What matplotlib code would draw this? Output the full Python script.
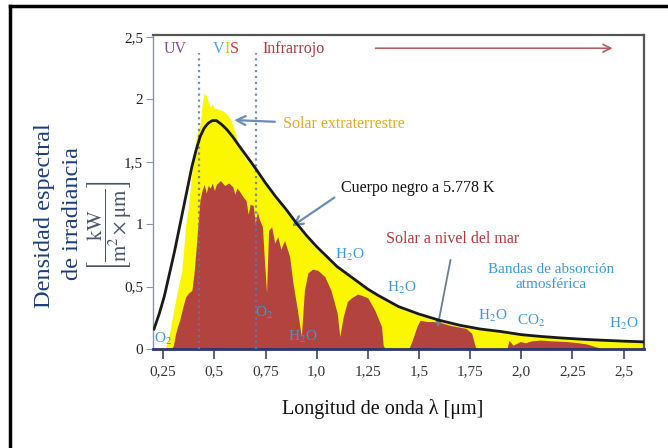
import matplotlib
matplotlib.use("Agg")
import matplotlib.pyplot as plt
from matplotlib.lines import Line2D
from matplotlib.transforms import offset_copy

plt.rcParams['font.family'] = ['Liberation Serif', 'DejaVu Serif']
plt.rcParams['mathtext.fontset'] = 'stix'

# ---- data ----
bb_x = [0.205, 0.23, 0.255, 0.28, 0.305, 0.33, 0.35, 0.37, 0.39, 0.41, 0.43, 0.45,
        0.47, 0.49, 0.51, 0.535, 0.56, 0.59, 0.62, 0.66, 0.70, 0.75, 0.80, 0.85,
        0.90, 0.95, 1.00, 1.05, 1.10, 1.15, 1.20, 1.25, 1.30, 1.40, 1.50, 1.60,
        1.70, 1.80, 1.90, 2.00, 2.10, 2.20, 2.30, 2.40, 2.50, 2.60]
bb_y = [0.16, 0.28, 0.42, 0.60, 0.78, 0.98, 1.14, 1.30, 1.46, 1.59, 1.70, 1.77,
        1.81, 1.83, 1.83, 1.80, 1.76, 1.70, 1.63, 1.54, 1.45, 1.33, 1.22, 1.12,
        1.01, 0.91, 0.82, 0.74, 0.66, 0.60, 0.54, 0.48, 0.43, 0.34, 0.28, 0.23,
        0.19, 0.16, 0.14, 0.115, 0.10, 0.088, 0.078, 0.07, 0.063, 0.057]

ext_x = [0.26, 0.28, 0.30, 0.32, 0.34, 0.35, 0.36, 0.37, 0.38, 0.39, 0.40, 0.41,
         0.42, 0.43, 0.44, 0.45, 0.46, 0.47, 0.48, 0.49, 0.50, 0.52, 0.54, 0.56,
         0.58, 0.60, 0.62, 0.65, 0.70, 0.75, 0.80, 0.85, 0.90, 0.95, 1.00, 1.10,
         1.20, 1.30, 1.40, 1.50, 1.60, 1.70, 1.80, 1.90, 2.00, 2.20, 2.40, 2.60]
ext_y = [0.0, 0.12, 0.30, 0.47, 0.62, 0.80, 1.00, 1.10, 1.25, 1.42, 1.55, 1.68,
         1.75, 1.80, 1.95, 2.05, 2.03, 1.98, 1.94, 1.96, 1.93, 1.92, 1.91, 1.88,
         1.84, 1.74, 1.62, 1.53, 1.43, 1.31, 1.20, 1.10, 0.99, 0.89, 0.80, 0.65,
         0.53, 0.42, 0.33, 0.27, 0.22, 0.18, 0.155, 0.135, 0.11, 0.085, 0.068, 0.055]

sea_x = [0.29, 0.30, 0.31, 0.32, 0.33, 0.345, 0.36, 0.375, 0.39, 0.40, 0.41, 0.42,
         0.43, 0.44, 0.45, 0.46, 0.47, 0.48, 0.49, 0.50, 0.51, 0.53, 0.55, 0.57,
         0.59, 0.60, 0.61, 0.62, 0.64, 0.655, 0.665, 0.675, 0.69, 0.70, 0.71, 0.72,
         0.735, 0.745, 0.755, 0.765, 0.78, 0.795, 0.81, 0.825, 0.843, 0.868, 0.884,
         0.908, 0.925, 0.94, 0.957, 0.98, 1.006, 1.04, 1.07, 1.10, 1.113, 1.13,
         1.15, 1.17, 1.20, 1.22, 1.25, 1.284, 1.317, 1.325, 1.335, 1.45, 1.465,
         1.49, 1.505, 1.54, 1.57, 1.61, 1.65, 1.70, 1.73, 1.758, 1.775, 1.785,
         1.93, 1.94, 1.96, 1.995, 2.02, 2.05, 2.093, 2.15, 2.22, 2.28, 2.32, 2.38, 2.40]
sea_y = [0.0, 0.03, 0.12, 0.18, 0.23, 0.33, 0.42, 0.45, 0.47, 0.60, 0.79, 1.00,
         1.20, 1.27, 1.32, 1.25, 1.31, 1.29, 1.33, 1.27, 1.32, 1.35, 1.31, 1.33,
         1.30, 1.24, 1.29, 1.27, 1.22, 1.19, 1.08, 1.16, 1.15, 1.01, 1.10, 1.04,
         0.98, 0.70, 0.45, 0.95, 0.98, 0.85, 0.90, 0.80, 0.87, 0.74, 0.53,
         0.29, 0.10, 0.47, 0.61, 0.64, 0.63, 0.58, 0.47, 0.29, 0.10, 0.26,
         0.38, 0.41, 0.44, 0.43, 0.41, 0.31, 0.18, 0.03, 0.0, 0.0, 0.06,
         0.18, 0.23, 0.22, 0.22, 0.21, 0.19, 0.175, 0.165, 0.125, 0.02, 0.0,
         0.0, 0.07, 0.03, 0.06, 0.05, 0.065, 0.072, 0.065, 0.06, 0.05, 0.04, 0.01, 0.0]

band_edges = [0.425, 0.705]
xticks = [0.25, 0.5, 0.75, 1.0, 1.25, 1.5, 1.75, 2.0, 2.25, 2.5]
xtick_labels = ["0,25", "0,5", "0,75", "1,0", "1,25", "1,5", "1,75", "2,0", "2,25", "2,5"]
yticks = [0, 0.5, 1, 1.5, 2, 2.5]
ytick_labels = ["0", "0,5", "1", "1,5", "2", "2,5"]

# ---- figure ----
fig = plt.figure(figsize=(6.68, 4.48), dpi=100)
ax = fig.add_axes([153/668, 1-349/448, (644-153)/668, (349-35)/448])
ax.set_xlim(0.2, 2.6)
ax.set_ylim(0, 2.516)

ax.fill_between(ext_x, 0, ext_y, color='#fbf700', lw=0, zorder=1)
ax.fill_between(sea_x, 0, sea_y, color='#b3433f', lw=0, zorder=2)
for xb in band_edges:
    ax.plot([xb, xb], [0, 2.37], ls=':', color='#5b78b8', lw=1.6, alpha=0.85, zorder=3)
ax.plot(bb_x, bb_y, color='#1a1a1a', lw=2.0, zorder=4)

ax.set_xticks(xticks)
ax.set_xticklabels(xtick_labels)
ax.set_yticks(yticks)
ax.set_yticklabels(ytick_labels)
ax.tick_params(axis='x', direction='out', length=7, width=1.3, color='#4a5570',
               labelsize=11, labelcolor='#333333', pad=5)
ax.tick_params(axis='y', direction='out', length=5, width=0.8, color='#8a96a8',
               labelsize=11, labelcolor='#222222', pad=2)
ax.spines['bottom'].set_color('#2a3670')
ax.spines['bottom'].set_linewidth(2.0)
ax.spines['left'].set_color('#8a96a8')
ax.spines['left'].set_linewidth(1.0)
for s in ('top', 'right'):
    ax.spines[s].set_color('#555555')
    ax.spines[s].set_linewidth(1.6)

# region labels
ax.text(0.31, 2.40, "UV", color='#8a4aa8', fontsize=11.5, ha='center', va='center')
fig.canvas.draw()
renderer = fig.canvas.get_renderer()
vis_x = 0.492
trans = ax.transData
for ch, col in [("V", '#4aa6e6'), ("I", '#f0b81e'), ("S", '#c8403c')]:
    t = ax.text(vis_x, 2.40, ch, color=col, fontsize=11.5, ha='left', va='center',
                transform=trans)
    w = t.get_window_extent(renderer=renderer).width
    trans = offset_copy(trans, fig=fig, x=w, y=0, units='dots')
ax.text(0.735, 2.40, "Infrarrojo", color='#a83a3a', fontsize=11.5, ha='left', va='center')
ax.annotate("", xy=(2.46, 2.41), xytext=(1.274, 2.41),
            arrowprops=dict(arrowstyle='->', color='#b06060', lw=1.2, mutation_scale=14))

# annotations
ax.text(0.833, 1.80, "Solar extraterrestre", color='#e8a820', fontsize=11.5,
        ha='left', va='center')
ax.annotate("", xy=(0.583, 1.835), xytext=(0.809, 1.82),
            arrowprops=dict(arrowstyle='->', color='#6b8db5', lw=1.6, mutation_scale=16))
ax.text(1.12, 1.29, "Cuerpo negro a 5.778 K", color='#111111', fontsize=11.5,
        ha='left', va='center')
ax.annotate("", xy=(0.868, 0.97), xytext=(1.098, 1.226),
            arrowprops=dict(arrowstyle='->', color='#6b8db5', lw=1.6, mutation_scale=16))
ax.text(1.667, 0.88, "Solar a nivel del mar", color='#b03a3a', fontsize=11.5,
        ha='center', va='center')
ax.annotate("", xy=(1.588, 0.152), xytext=(1.657, 0.737),
            arrowprops=dict(arrowstyle='-|>', color='#6b7f9a', lw=1.3, mutation_scale=9))
ax.text(2.147, 0.577, "Bandas de absorción\natmosférica", color='#3a9ad6',
        fontsize=11, ha='center', va='center', linespacing=1.15)

blue = '#3a9ad6'
for (lx, ly, lab) in [(1.162, 0.753, "H$_2$O"), (1.417, 0.489, "H$_2$O"),
                      (1.863, 0.264, "H$_2$O"), (2.50, 0.20, "H$_2$O"),
                      (0.931, 0.096, "H$_2$O"), (0.25, 0.08, "O$_2$"),
                      (0.745, 0.29, "O$_2$"), (2.049, 0.224, "CO$_2$")]:
    ax.text(lx, ly, lab, color=blue, fontsize=11, ha='center', va='center', zorder=5)

# axis labels
fig.text(383/668, 1-409/448, "Longitud de onda λ [μm]", fontsize=14.5, color='#111111',
         ha='center', va='center')
fig.text(45/668, 1-216/448, "Densidad espectral", fontsize=17.5, color='#1a3f7a',
         rotation=90, ha='center', va='center')
fig.text(73/668, 1-214/448, "de irradiancia", fontsize=17.5, color='#1a3f7a',
         rotation=90, ha='center', va='center')
fig.text(110/668, 1-226/448,
         r'$\left[\dfrac{\mathrm{kW}}{\mathrm{m^2 \times \mu m}}\right]$',
         fontsize=15, color='#4a5468', rotation=90, ha='center', va='center')

# outer frame (left and top edges)
fig.add_artist(Line2D([10/668, 10/668], [0, 1-6/448], transform=fig.transFigure,
                      color='black', lw=2.5))
fig.add_artist(Line2D([10/668, 1], [1-6/448, 1-6/448], transform=fig.transFigure,
                      color='black', lw=2.5))

fig.savefig("out.png", dpi=100)
